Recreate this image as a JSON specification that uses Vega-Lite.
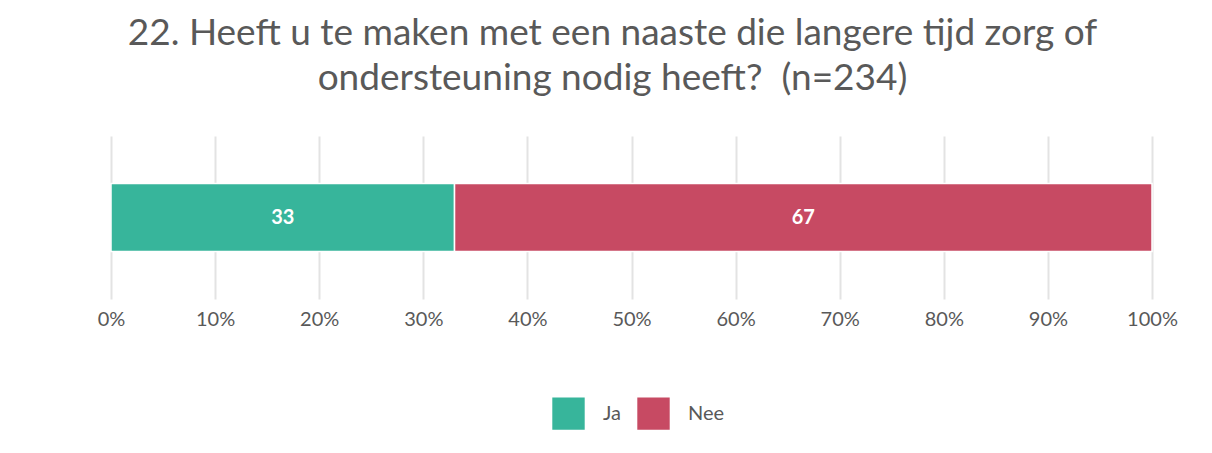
{
  "$schema": "https://vega.github.io/schema/vega-lite/v6.json",
  "width": 1041,
  "height": 163,
  "autosize": "none",
  "padding": {"left": 111, "top": 136, "right": 60, "bottom": 154},
  "background": "white",
  "title": {
    "text": ["22. Heeft u te maken met een naaste die langere tijd zorg of", "ondersteuning nodig heeft?\u00a0 (n=234)"],
    "font": "Lato",
    "fontSize": 37,
    "fontWeight": "normal",
    "color": "#595959",
    "anchor": "middle",
    "lineHeight": 45,
    "offset": 38,
    "dx": -19
  },
  "data": {
    "values": [
      {"vraag": "Q22", "antwoord": "Ja", "percentage": 33},
      {"vraag": "Q22", "antwoord": "Nee", "percentage": 67}
    ]
  },
  "transform": [
    {"stack": "percentage", "groupby": ["vraag"], "sort": [{"field": "antwoord", "order": "ascending"}], "offset": "normalize", "as": ["x0", "x1"]},
    {"calculate": "(datum.x0 + datum.x1) / 2", "as": "xm"}
  ],
  "encoding": {
    "y": {"field": "vraag", "type": "nominal", "axis": null, "scale": {"paddingInner": 0, "paddingOuter": 0.7}}
  },
  "layer": [
    {
      "mark": {"type": "bar", "stroke": "white", "strokeWidth": 1.5},
      "encoding": {
        "x": {
          "field": "x0", "type": "quantitative",
          "scale": {"domain": [0, 1], "nice": false},
          "axis": {
            "format": "%", "values": [0, 0.1, 0.2, 0.3, 0.4, 0.5, 0.6, 0.7, 0.8, 0.9, 1],
            "title": null, "domain": false, "ticks": false,
            "grid": true, "gridColor": "#e3e3e3", "gridWidth": 2,
            "labelFont": "Lato", "labelFontSize": 20, "labelColor": "#595959",
            "labelPadding": 10, "labelFlush": false, "labelOverlap": false
          }
        },
        "x2": {"field": "x1"},
        "color": {
          "field": "antwoord", "type": "nominal",
          "scale": {"domain": ["Ja", "Nee"], "range": ["#37B59B", "#C74A63"]},
          "legend": {
            "title": null, "orient": "none", "direction": "horizontal",
            "legendX": 441, "legendY": 261,
            "symbolType": "square", "symbolSize": 1050, "symbolStrokeWidth": 0, "symbolOpacity": 1,
            "labelFont": "Lato", "labelFontSize": 20, "labelColor": "#595959",
            "labelOffset": 18, "columnPadding": 16, "padding": 0
          }
        }
      }
    },
    {
      "mark": {"type": "text", "color": "white", "font": "Lato", "fontSize": 20, "fontWeight": "bold", "align": "center", "baseline": "middle"},
      "encoding": {
        "x": {"field": "xm", "type": "quantitative"},
        "text": {"field": "percentage", "type": "quantitative"}
      }
    }
  ],
  "config": {"view": {"stroke": null}}
}
